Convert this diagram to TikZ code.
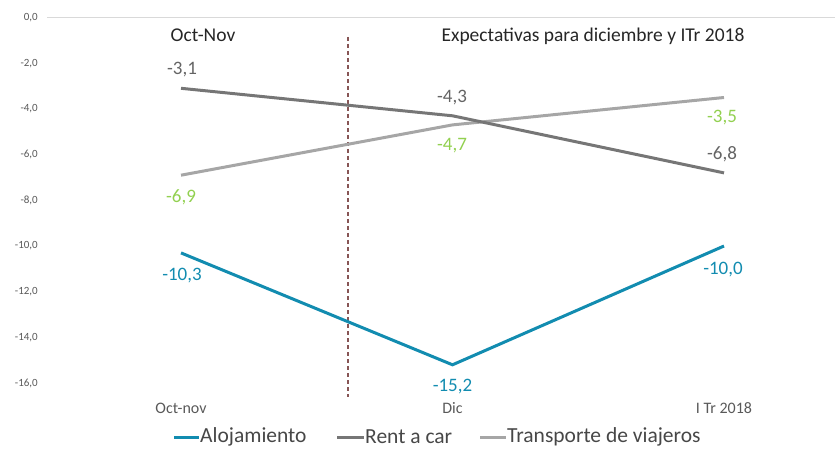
\documentclass[tikz,border=0pt]{standalone}
\usepackage{fontspec}
\setmainfont{Carlito}
\usepackage{tikz}
\usetikzlibrary{positioning}

\definecolor{aloj}{RGB}{18,140,176}
\definecolor{rentcar}{RGB}{118,118,118}
\definecolor{transp}{RGB}{166,166,166}
\definecolor{verde}{RGB}{146,208,80}
\definecolor{separa}{RGB}{135,85,85}
\definecolor{ejes}{RGB}{89,89,89}
\definecolor{rejilla}{RGB}{217,217,217}

\begin{document}
\begin{tikzpicture}[x=1pt,y=1pt,
  serie/.style={line width=3pt},
  valor/.style={font=\fontsize{19}{22}\selectfont, inner sep=0pt},
  tick/.style={ejes, anchor=east, font=\fontsize{11}{13}\selectfont, inner sep=0pt},
  categoria/.style={ejes, font=\fontsize{16}{18}\selectfont, inner sep=0pt},
  leyenda/.style={ejes!80!black, anchor=west, font=\fontsize{21.5}{24}\selectfont, inner sep=1pt}]
\useasboundingbox (0,0) rectangle (838,-449);

% eje y y rejilla
\coordinate (g0) at (47,-17.5);
\coordinate (g1) at (835,-17.5);
\draw [rejilla, line width=1pt] (g0) -- (g1);
\node [tick] (t0) at (38,-17.5) {0,0};
\node [tick] (t2) at (38,-63.2) {-2,0};
\node [tick] (t4) at (38,-108.9) {-4,0};
\node [tick] (t6) at (38,-154.6) {-6,0};
\node [tick] (t8) at (38,-200.3) {-8,0};
\node [tick] (t10) at (38,-246) {-10,0};
\node [tick] (t12) at (38,-291.7) {-12,0};
\node [tick] (t14) at (38,-337.4) {-14,0};
\node [tick] (t16) at (38,-383.1) {-16,0};

% separacion
\coordinate (sepA) at (348,-37);
\coordinate (sepB) at (348,-397);
\draw [separa, line width=1.5pt, dash pattern=on 4pt off 3pt] (sepA) -- (sepB);
\node [font=\fontsize{19.5}{22}\selectfont, black!85] (titA) at (203,-35) {Oct-Nov};
\node [font=\fontsize{19.5}{22}\selectfont, black!85] (titB) at (593,-36) {Expectativas para diciembre y ITr 2018};

% series
\coordinate (r1) at (181,-88.3);
\coordinate (r2) at (452.5,-115.8);
\coordinate (r3) at (724,-172.9);
\coordinate (v1) at (181,-175.2);
\coordinate (v2) at (452.5,-124.9);
\coordinate (v3) at (724,-97.5);
\coordinate (a1) at (181,-252.9);
\coordinate (a2) at (452.5,-364.8);
\coordinate (a3) at (724,-246);
\draw [transp, serie] (v1) -- (v2) -- (v3);
\draw [rentcar, serie] (r1) -- (r2) -- (r3);
\draw [aloj, serie] (a1) -- (a2) -- (a3);

% etiquetas de datos
\node [valor, rentcar!85!black] (er1) at (182,-70) {-3,1};
\node [valor, rentcar!85!black] (er2) at (452,-97.5) {-4,3};
\node [valor, rentcar!85!black] (er3) at (722,-154) {-6,8};
\node [valor, verde] (ev1) at (181,-197) {-6,9};
\node [valor, verde] (ev2) at (452,-146) {-4,7};
\node [valor, verde] (ev3) at (722,-118) {-3,5};
\node [valor, aloj] (ea1) at (182,-276) {-10,3};
\node [valor, aloj] (ea2) at (452.5,-387) {-15,2};
\node [valor, aloj] (ea3) at (723,-270) {-10,0};

% categorias
\node [categoria] (c1) at (181,-408) {Oct-nov};
\node [categoria] (c2) at (452.5,-408) {Dic};
\node [categoria] (c3) at (724,-408) {I Tr 2018};

% leyenda
\coordinate (la1) at (174,-437);
\coordinate (la2) at (199,-437);
\draw [aloj, serie] (la1) -- (la2);
\node [leyenda] (la) at (la2) {Alojamiento};
\coordinate (lr1) at (337,-437);
\coordinate (lr2) at (364,-437);
\draw [rentcar, serie] (lr1) -- (lr2);
\node [leyenda] (lr) at (lr2) {Rent a car};
\coordinate (lv1) at (480,-437);
\coordinate (lv2) at (506,-437);
\draw [transp, serie] (lv1) -- (lv2);
\node [leyenda] (lv) at (lv2) {Transporte de viajeros};
\end{tikzpicture}
\end{document}
